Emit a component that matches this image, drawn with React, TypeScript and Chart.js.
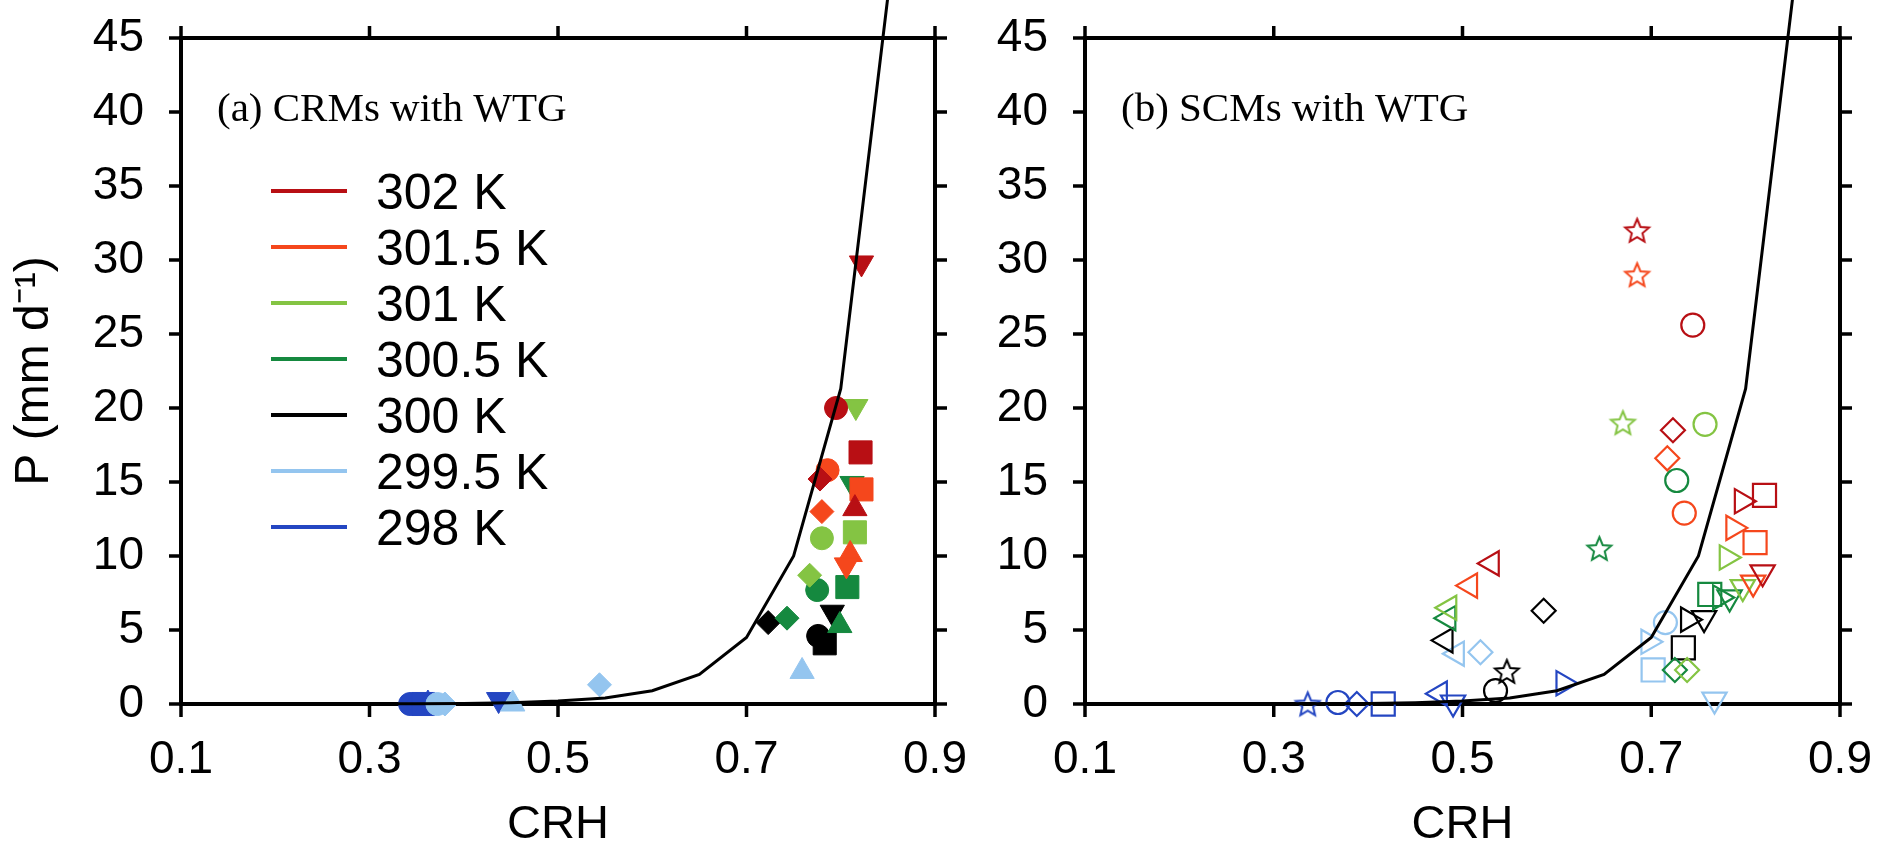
import React, { useEffect, useRef } from 'react';
import { Chart, registerables } from 'chart.js';

Chart.register(...registerables);

// ---------------- data ----------------
const sstLabels = ['302 K', '301.5 K', '301 K', '300.5 K', '300 K', '299.5 K', '298 K'];

const xTickValues = [0.1, 0.3, 0.5, 0.7, 0.9];
const xTickLabels = ['0.1', '0.3', '0.5', '0.7', '0.9'];
const yTickValues = [0, 5, 10, 15, 20, 25, 30, 35, 40, 45];
const yTickLabels = ['0', '5', '10', '15', '20', '25', '30', '35', '40', '45'];

// reference CRH–precipitation curve
const curveCrh = [0.15, 0.2, 0.25, 0.3, 0.35, 0.4, 0.45, 0.5, 0.55, 0.6, 0.65, 0.7, 0.75, 0.8, 0.85];
const curveP = [0.0, 0.0, 0.0, 0.01, 0.02, 0.04, 0.09, 0.2, 0.4, 0.9, 2.0, 4.5, 10.0, 21.3, 47.8];

// [CRH, P, model marker]
type Pt = [number, number, string];

// (a) CRMs with WTG
const crm302: Pt[] = [[0.822, 29.8, 'v'], [0.795, 20.0, 'o'], [0.821, 17.0, 's'], [0.778, 15.2, 'd'], [0.815, 13.2, '^']];
const crm3015: Pt[] = [[0.786, 15.8, 'o'], [0.822, 14.5, 's'], [0.780, 13.0, 'd'], [0.810, 10.1, '^'], [0.806, 9.4, 'v']];
const crm301: Pt[] = [[0.816, 20.1, 'v'], [0.780, 11.2, 'o'], [0.815, 11.6, 's'], [0.767, 8.7, 'd']];
const crm3005: Pt[] = [[0.812, 14.9, 'v'], [0.775, 7.7, 'o'], [0.807, 7.9, 's'], [0.743, 5.8, 'd'], [0.799, 5.3, '^']];
const crm300: Pt[] = [[0.723, 5.5, 'd'], [0.791, 6.2, 'v'], [0.776, 4.6, 'o'], [0.783, 4.1, 's']];
const crm2995: Pt[] = [[0.759, 2.2, '^'], [0.544, 1.3, 'd'], [0.452, 0.0, '^'], [0.372, 0.0, 'o'], [0.380, 0.0, 'd']];
const crm298: Pt[] = [[0.343, 0.0, 'o'], [0.350, 0.0, 'd'], [0.357, 0.0, 's'], [0.362, 0.0, '^'], [0.437, 0.3, 'v']];

// (b) SCMs with WTG
const scm302: Pt[] = [[0.685, 32.0, '*'], [0.744, 25.6, 'o'], [0.723, 18.5, 'd'], [0.796, 13.7, '>'], [0.820, 14.1, 's'], [0.818, 8.9, 'v'], [0.531, 9.5, '<']];
const scm3015: Pt[] = [[0.685, 29.0, '*'], [0.735, 12.9, 'o'], [0.717, 16.6, 'd'], [0.787, 11.9, '>'], [0.810, 10.9, 's'], [0.808, 8.2, 'v'], [0.508, 8.0, '<']];
const scm301: Pt[] = [[0.670, 19.0, '*'], [0.757, 18.9, 'o'], [0.780, 9.9, '>'], [0.797, 7.9, 'v'], [0.738, 2.3, 'd'], [0.486, 6.5, '<']];
const scm3005: Pt[] = [[0.645, 10.5, '*'], [0.727, 15.1, 'o'], [0.762, 7.4, 's'], [0.773, 7.2, '>'], [0.783, 7.2, 'v'], [0.725, 2.3, 'd'], [0.485, 5.8, '<']];
const scm300: Pt[] = [[0.547, 2.2, '*'], [0.535, 0.9, 'o'], [0.586, 6.3, 'd'], [0.739, 5.7, '>'], [0.756, 5.8, 'v'], [0.734, 3.8, 's'], [0.482, 4.3, '<']];
const scm2995: Pt[] = [[0.702, 2.3, 's'], [0.697, 4.2, '>'], [0.715, 5.5, 'o'], [0.767, 0.3, 'v'], [0.494, 3.4, '<'], [0.519, 3.5, 'd']];
const scm298: Pt[] = [[0.336, 0.0, '*'], [0.368, 0.1, 'o'], [0.388, 0.0, 'd'], [0.416, 0.0, 's'], [0.607, 1.4, '>'], [0.476, 0.7, '<'], [0.490, 0.1, 'v']];

const crmGroups = [crm302, crm3015, crm301, crm3005, crm300, crm2995, crm298];
const scmGroups = [scm302, scm3015, scm301, scm3005, scm300, scm2995, scm298];

// ---------------- styles ----------------
const sstColors = ['#b80f14', '#f5471c', '#84c443', '#15893f', '#000000', '#94c5ef', '#2446c2'];
const SANS = '"Liberation Sans", Arial, Helvetica, sans-serif';
const SERIF = '"Liberation Serif", "Times New Roman", serif';

const markerShape: Record<string, string> = { o: 'circle', s: 'rect', d: 'rectRot', '^': 'triangle', v: 'triangle', '<': 'triangle', '>': 'triangle' };
const markerRot: Record<string, number> = { o: 0, s: 0, d: 0, '^': 0, v: 180, '<': 270, '>': 90, '*': 0 };
const markerRad: Record<string, number> = { o: 11.5, s: 16.3, d: 12, '^': 14, v: 14, '<': 14, '>': 14, '*': 12 };

const starCache = new Map<string, HTMLCanvasElement>();
function starImage(color: string, filled: boolean): HTMLCanvasElement {
  const key = color + (filled ? 'f' : 'o');
  const hit = starCache.get(key);
  if (hit) return hit;
  const R = 12.5;
  const r = R * 0.45;
  const lw = 2;
  const size = Math.ceil(2 * R + 2 * lw + 2);
  const c = document.createElement('canvas');
  c.width = size;
  c.height = size;
  const ctx = c.getContext('2d')!;
  const cx = size / 2;
  const cy = size / 2 + 1;
  ctx.beginPath();
  for (let i = 0; i < 10; i++) {
    const ang = -Math.PI / 2 + (i * Math.PI) / 5;
    const rr = i % 2 === 0 ? R : r;
    const px = cx + rr * Math.cos(ang);
    const py = cy + rr * Math.sin(ang);
    if (i === 0) ctx.moveTo(px, py);
    else ctx.lineTo(px, py);
  }
  ctx.closePath();
  if (filled) {
    ctx.fillStyle = color;
    ctx.fill();
  }
  ctx.strokeStyle = color;
  ctx.lineWidth = lw;
  ctx.lineJoin = 'miter';
  ctx.stroke();
  starCache.set(key, c);
  return c;
}

function pointDatasets(groups: Pt[][], filled: boolean) {
  return groups.map((pts, i) => {
    const color = sstColors[i];
    return {
      label: sstLabels[i],
      data: pts.map((p) => ({ x: p[0], y: p[1] })),
      showLine: false,
      clip: false as const,
      pointStyle: pts.map((p) => (p[2] === '*' ? starImage(color, filled) : markerShape[p[2]])),
      pointRotation: pts.map((p) => markerRot[p[2]]),
      pointRadius: pts.map((p) => markerRad[p[2]]),
      pointBackgroundColor: filled ? color : 'rgba(0,0,0,0)',
      pointBorderColor: color,
      pointBorderWidth: filled ? 1 : 2.2,
    };
  });
}

function curveDataset() {
  return {
    label: 'curve',
    data: curveCrh.map((x, i) => ({ x, y: curveP[i] })),
    showLine: true,
    borderColor: '#000',
    borderWidth: 3,
    pointRadius: 0,
    tension: 0,
    clip: false as const,
  };
}

const framePlugin = {
  id: 'frame',
  beforeDatasetsDraw(chart: any) {
    const { ctx, chartArea: a, scales } = chart;
    ctx.save();
    ctx.strokeStyle = '#000';
    ctx.lineWidth = 4;
    ctx.strokeRect(a.left, a.top, a.right - a.left, a.bottom - a.top);
    ctx.lineWidth = 3.5;
    ctx.beginPath();
    xTickValues.forEach((v) => {
      const px = scales.x.getPixelForValue(v);
      ctx.moveTo(px, a.bottom);
      ctx.lineTo(px, a.bottom + 13);
      ctx.moveTo(px, a.top);
      ctx.lineTo(px, a.top - 12);
    });
    yTickValues.forEach((v) => {
      const py = scales.y.getPixelForValue(v);
      ctx.moveTo(a.left, py);
      ctx.lineTo(a.left - 12, py);
      ctx.moveTo(a.right, py);
      ctx.lineTo(a.right + 12, py);
    });
    ctx.stroke();
    ctx.restore();
  },
};

function panelLabelPlugin(text: string) {
  return {
    id: 'panelLabel',
    afterDatasetsDraw(chart: any) {
      const { ctx, chartArea: a } = chart;
      ctx.save();
      ctx.fillStyle = '#000';
      ctx.font = `41px ${SERIF}`;
      ctx.textBaseline = 'alphabetic';
      ctx.textAlign = 'left';
      ctx.fillText(text, a.left + 36, a.top + 83);
      ctx.restore();
    },
  };
}

const legendPlugin = {
  id: 'sstLegend',
  afterDatasetsDraw(chart: any) {
    const { ctx, chartArea: a } = chart;
    ctx.save();
    ctx.font = `50px ${SANS}`;
    ctx.textBaseline = 'alphabetic';
    ctx.textAlign = 'left';
    sstLabels.forEach((lab, i) => {
      const cy = a.top + 153 + i * 56;
      ctx.strokeStyle = sstColors[i];
      ctx.lineWidth = 4;
      ctx.beginPath();
      ctx.moveTo(a.left + 90, cy);
      ctx.lineTo(a.left + 166, cy);
      ctx.stroke();
      ctx.fillStyle = '#000';
      ctx.fillText(lab, a.left + 195, cy + 0.358 * 50);
    });
    ctx.restore();
  },
};

function makeOptions(yWidth: number, padRight: number, yTitle: string | null): any {
  return {
    animation: false,
    responsive: false,
    devicePixelRatio: 1,
    events: [],
    layout: { padding: { left: 0, top: 38, right: padRight, bottom: 0 } },
    plugins: { legend: { display: false }, tooltip: { enabled: false }, title: { display: false } },
    scales: {
      x: {
        type: 'linear',
        min: 0.1,
        max: 0.9,
        afterBuildTicks: (s: any) => {
          s.ticks = xTickValues.map((v) => ({ value: v }));
        },
        afterFit: (s: any) => {
          s.height = 142;
          s.paddingLeft = 0;
          s.paddingRight = 0;
        },
        grid: { display: false },
        border: { display: false },
        ticks: {
          autoSkip: false,
          maxRotation: 0,
          padding: 21,
          color: '#000',
          font: { family: SANS, size: 46 },
          callback: (_v: any, i: number) => xTickLabels[i],
        },
        title: {
          display: true,
          text: 'CRH',
          color: '#000',
          font: { family: SANS, size: 47 },
          padding: { top: 0, bottom: -7 },
        },
      },
      y: {
        type: 'linear',
        min: 0,
        max: 45,
        afterBuildTicks: (s: any) => {
          s.ticks = yTickValues.map((v) => ({ value: v }));
        },
        afterFit: (s: any) => {
          s.width = yWidth;
          s.paddingTop = 0;
          s.paddingBottom = 0;
        },
        grid: { display: false },
        border: { display: false },
        ticks: {
          autoSkip: false,
          padding: 29,
          color: '#000',
          font: { family: SANS, size: 46 },
          callback: (_v: any, i: number) => yTickLabels[i],
        },
        title: {
          display: !!yTitle,
          text: yTitle || '',
          color: '#000',
          font: { family: SANS, size: 48 },
          padding: { top: 6, bottom: 0 },
        },
      },
    },
  };
}

export default function App() {
  const leftRef = useRef<HTMLCanvasElement>(null);
  const rightRef = useRef<HTMLCanvasElement>(null);

  useEffect(() => {
    const left = new Chart(leftRef.current!, {
      type: 'scatter',
      data: { datasets: [curveDataset(), ...pointDatasets(crmGroups, true)] as any },
      options: makeOptions(181, 1010 - 935, 'P (mm d\u207B\u00B9)'),
      plugins: [framePlugin, panelLabelPlugin('(a) CRMs with WTG'), legendPlugin],
    });
    const right = new Chart(rightRef.current!, {
      type: 'scatter',
      data: { datasets: [curveDataset(), ...pointDatasets(scmGroups, false)] as any },
      options: makeOptions(125, 925 - 880, null),
      plugins: [framePlugin, panelLabelPlugin('(b) SCMs with WTG')],
    });
    return () => {
      left.destroy();
      right.destroy();
    };
  }, []);

  return (
    <div style={{ position: 'absolute', left: 0, top: 0, width: 1885, height: 846, background: '#fff', overflow: 'hidden' }}>
      <canvas ref={leftRef} width={1010} height={846} style={{ position: 'absolute', left: 0, top: 0, width: 1010, height: 846 }} />
      <canvas ref={rightRef} width={925} height={846} style={{ position: 'absolute', left: 960, top: 0, width: 925, height: 846 }} />
    </div>
  );
}
